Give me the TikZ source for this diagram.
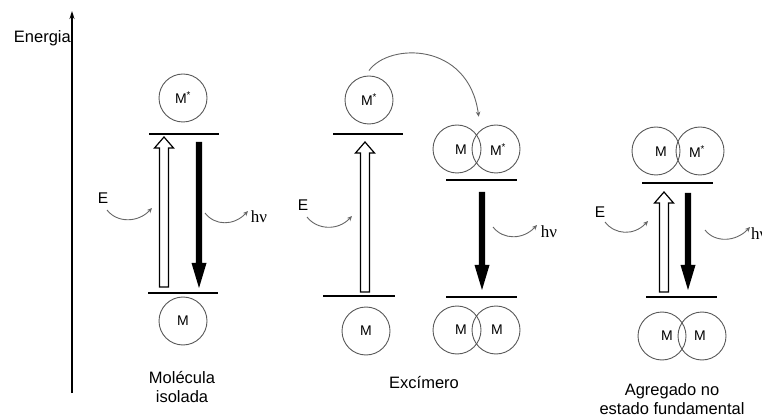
\documentclass[tikz,border=0pt]{standalone}
\usepackage{fontspec}
\setmainfont{Liberation Sans}
\newfontfamily\serifnu{Liberation Serif}
\usetikzlibrary{arrows.meta}

\tikzset{
  mol/.style={circle,draw=black!65,line width=0.9pt,minimum size=48pt,inner sep=0pt},
  mlabel/.style={font=\fontsize{14}{16}\selectfont,inner sep=0pt},
  level/.style={line width=1.4pt},
  curvy/.style={draw=black!60,line width=0.9pt,-{Stealth[length=5pt,width=4.5pt]}},
  caption/.style={font=\fontsize{16.5}{19}\selectfont,align=center,inner sep=0pt},
  elabel/.style={font=\fontsize{15.5}{18}\selectfont,inner sep=0pt},
  hnu/.style={font=\serifnu\fontsize{17}{19}\selectfont,inner sep=0pt},
  absorb/.style={draw=black,line width=1.2pt,fill=white,line join=miter},
  axis/.style={line width=1.3pt,-{Stealth[length=8pt,width=5pt]}},
}

% hollow upward arrow: #1 = x, #2 = tip y, #3 = foot y
\newcommand\absorbarrow[3]{%
  \draw[absorb] (#1-4.5,#3) -- (#1-4.5,#2+11) -- (#1-9.5,#2+11) -- (#1,#2)
    -- (#1+9.5,#2+11) -- (#1+4.5,#2+11) -- (#1+4.5,#3) -- cycle;}
% solid downward arrow: #1 = x, #2 = top y, #3 = tip y
\newcommand\emitarrow[3]{%
  \fill (#1-3.2,#2) -- (#1-3.2,#3-25) -- (#1-7.5,#3-25) -- (#1,#3)
    -- (#1+7.5,#3-25) -- (#1+3.2,#3-25) -- (#1+3.2,#2) -- cycle;}
% small curved arrow: start x, start y, end x, end y
\newcommand\swoosh[4]{%
  \draw[curvy] (#1,#2) .. controls (#1+10,#2+13) and (#3-14,#4+15) .. (#3,#4);}

\begin{document}
\begin{tikzpicture}[x=1pt,y=-1pt]
\useasboundingbox (0,0) rectangle (762,419);

% energy axis
\coordinate (axbot) at (72,393);
\coordinate (axtop) at (72,11);
\draw[axis] (axbot) -- (axtop);
\node[caption,anchor=east] (energia) at (71,38) {Energia};

% ---- isolated molecule ----
\node[mol] (m1s) at (183,98) {};
\node[mlabel] (t1s) at (183,98) {M\textsuperscript{*}};
\draw[level] (149,134) -- (219,134);
\draw[level] (148,293) -- (218,293);
\node[mol] (m1) at (183,321) {};
\node[mlabel] (t1) at (183,321) {M};
\absorbarrow{164}{137}{287}
\emitarrow{199}{142}{288}
\node[elabel] (e1) at (103,198) {E};
\swoosh{107}{210}{152}{208}
\swoosh{205}{213}{248}{211}
\node[hnu] (h1) at (259,217) {hν};
\node[caption] (c1) at (182,387) {Molécula\\isolada};

% ---- excimer ----
\node[mol] (m2s) at (369,100) {};
\node[mlabel] (t2s) at (369,100) {M\textsuperscript{*}};
\draw[level] (333,134) -- (403,134);
\draw[level] (323,296) -- (395,296);
\node[mol] (m2) at (366,331) {};
\node[mlabel] (t2) at (366,331) {M};
\absorbarrow{365}{142}{292}
\node[elabel] (e2) at (303,205) {E};
\swoosh{307}{217}{352}{216}

\node[mol] (ex1a) at (457,149) {};
\node[mol] (ex1b) at (496,149) {};
\node[mlabel] (u1a) at (461,150) {M};
\node[mlabel] (u1b) at (498,150) {M\textsuperscript{*}};
\draw[level] (446,180) -- (517,180);
\emitarrow{482}{192}{290}
\draw[level] (446,297) -- (517,297);
\node[mol] (ex0a) at (457,330) {};
\node[mol] (ex0b) at (496,330) {};
\node[mlabel] (u0a) at (461,330) {M};
\node[mlabel] (u0b) at (497,330) {M};
\swoosh{493}{227}{537}{225}
\node[hnu] (h2) at (549,232) {hν};
\node[caption] (c2) at (424,383) {Excímero};

\draw[curvy] ([yshift=5pt]m2s.north) .. controls +(20,-28) and +(-10,-75) .. ([yshift=15pt]ex1b.north west);

% ---- ground-state aggregate ----
\node[mol] (ag1a) at (656,151) {};
\node[mol] (ag1b) at (700,151) {};
\node[mlabel] (v1a) at (661,152) {M};
\node[mlabel] (v1b) at (697,152) {M\textsuperscript{*}};
\draw[level] (642,183) -- (713,183);
\absorbarrow{664}{192}{292}
\emitarrow{688}{193}{290}
\draw[level] (646,297) -- (717,297);
\node[mol] (ag0a) at (662,336) {};
\node[mol] (ag0b) at (702,336) {};
\node[mlabel] (v0a) at (667,336) {M};
\node[mlabel] (v0b) at (700,336) {M};
\node[elabel] (e3) at (600,212) {E};
\swoosh{605}{222}{648}{221}
\swoosh{705}{230}{750}{227}
\node[hnu,anchor=west] (h3) at (751,234) {hν};
\node[caption] (c3) at (672,399) {Agregado no\\estado fundamental};
\end{tikzpicture}
\end{document}
